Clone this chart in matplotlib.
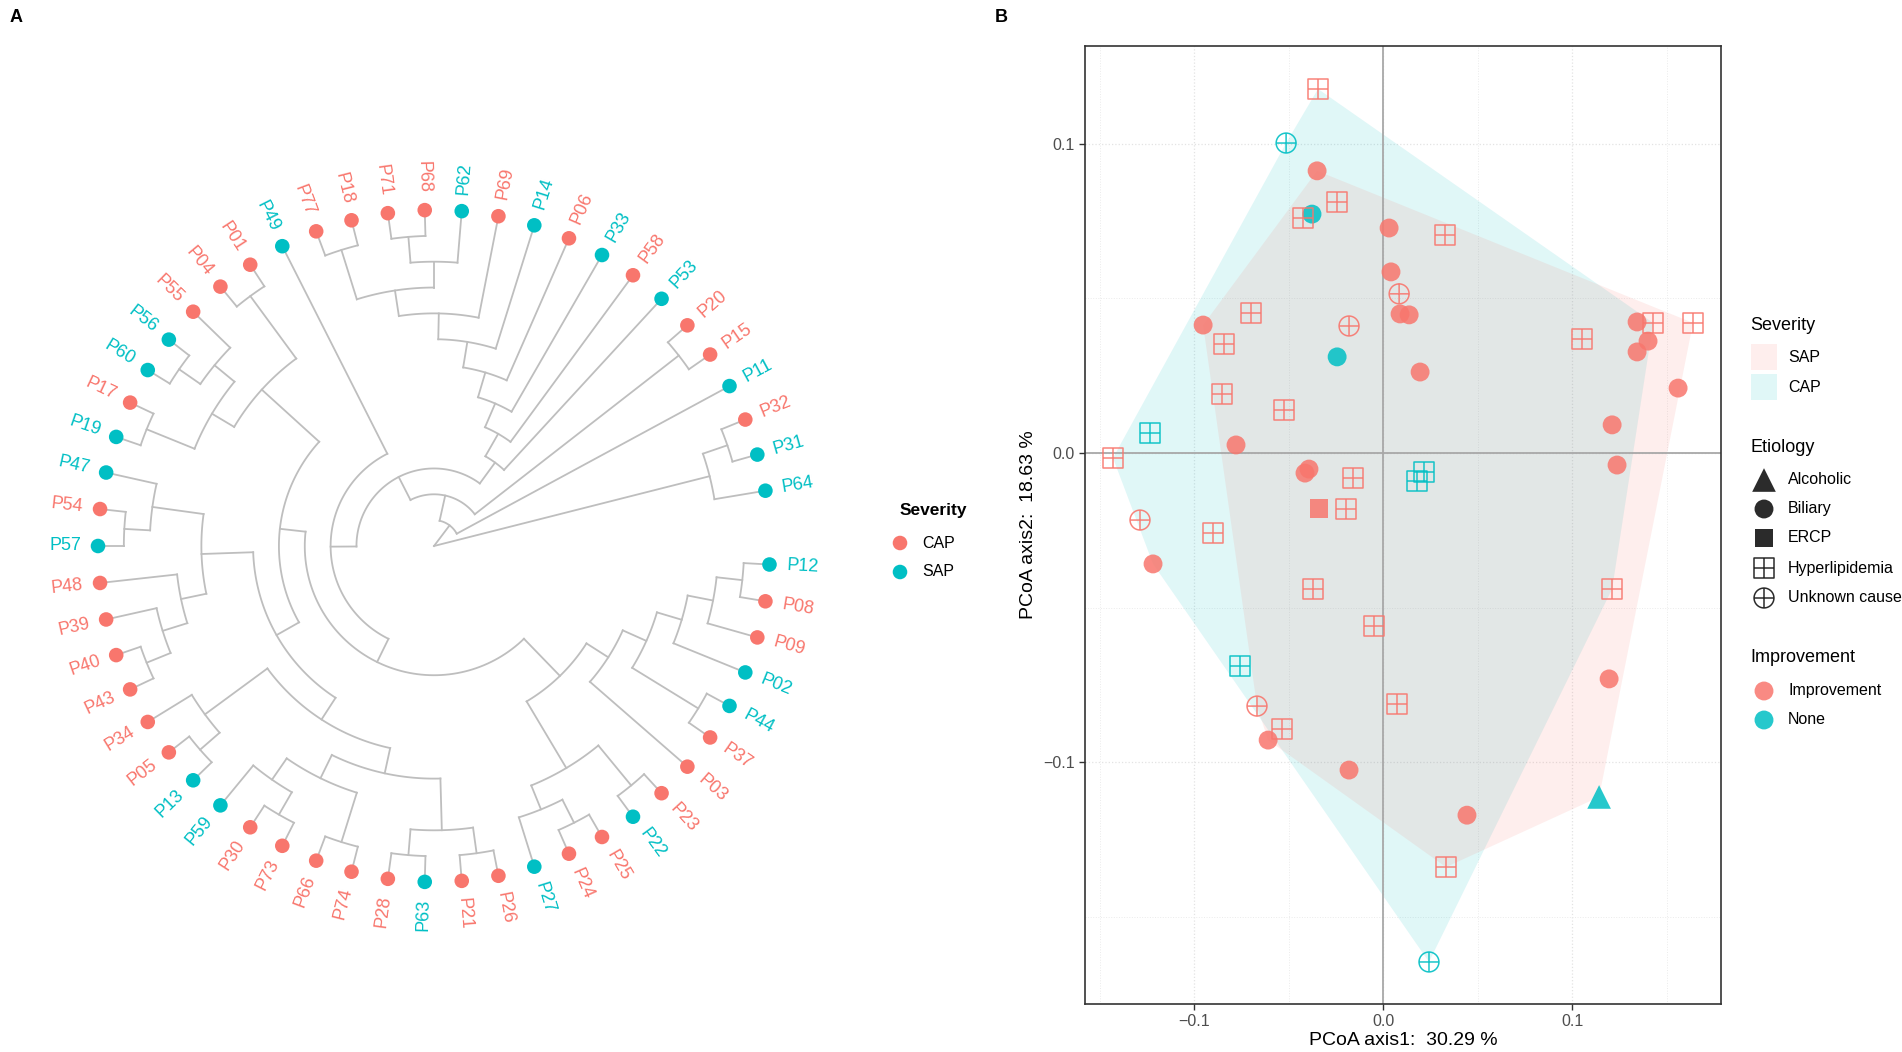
import numpy as np
import matplotlib
matplotlib.use("Agg")
import matplotlib.pyplot as plt
from matplotlib.path import Path
from matplotlib.transforms import Affine2D
from matplotlib.patches import Polygon, Rectangle

plt.rcParams["font.family"] = ["Liberation Sans", "DejaVu Sans"]

PINK = "#F8766D"
CYAN = "#00BFC4"
TREE_GRAY = "#BEBEBE"

# ─── Panel A: clustering tree (cladogram, leaf order as in the figure) ────────
CL_A  = "(P64,(P31,P32))"
CL_B  = "(P15,P20)"
CL_M  = "((P62,(P68,P71)),(P18,P77))"
CL_L  = "(P53,(P58,(P33,(P06,(P14,(P69," + CL_M + "))))))"
CL_G1 = "((P01,P04),((P55,(P56,P60)),(P17,P19)))"
CL_G2 = "((P47,(P54,P57)),(P48,(P39,(P40,P43))))"
CL_Q1 = "(P34,(P05,P13))"
CL_Q2 = "(((P59,(P30,P73)),(P66,P74)),((P28,P63),(P21,P26)))"
CL_V1 = "((P27,(P24,P25)),(P22,P23))"
CL_V2 = "(P03,((P37,P44),(P02,(P09,(P08,P12)))))"
CL_U  = "(" + CL_G1 + ",(" + CL_G2 + ",(" + CL_Q1 + "," + CL_Q2 + ")))"
CL_Z  = "(P49,(" + CL_U + ",(" + CL_V1 + "," + CL_V2 + ")))"
TREE  = "(" + CL_A + ",(P11,(" + CL_B + ",(" + CL_L + "," + CL_Z + "))))"

SAP_TIPS = ["P64", "P31", "P11", "P53", "P33", "P14", "P62", "P49", "P56", "P60",
            "P19", "P47", "P57", "P13", "P59", "P63", "P27", "P22", "P44", "P02", "P12"]

# ─── Panel B: PCoA ordination ─────────────────────────────────────────────────
PCOA1 = [-0.0344, -0.0513, -0.0349, -0.0376, -0.0423, -0.0243, 0.0032, 0.0328,
         0.0042, 0.0085, 0.0090, 0.0138, -0.0180, -0.0243, 0.0196, -0.0952,
         -0.0698, -0.0841, -0.0852, -0.0524, -0.1233, -0.0778, -0.1429, -0.0413,
         -0.0392, -0.0159, 0.0217, 0.0180, -0.0339, -0.0196, -0.1286, -0.0899,
         -0.1217, -0.0370, -0.0048, -0.0757, -0.0667, -0.0534, -0.0608, -0.0180,
         0.0074, 0.0444, 0.0333, 0.0243, 0.1143, 0.1196, 0.1212, 0.1238,
         0.1212, 0.1053, 0.1344, 0.1429, 0.1402, 0.1344, 0.1640, 0.1561]
PCOA2 = [0.1178, 0.1003, 0.0913, 0.0773, 0.0761, 0.0812, 0.0728, 0.0706,
         0.0586, 0.0515, 0.0450, 0.0447, 0.0411, 0.0311, 0.0262, 0.0414,
         0.0453, 0.0353, 0.0191, 0.0139, 0.0065, 0.0026, -0.0016, -0.0065,
         -0.0052, -0.0081, -0.0061, -0.0091, -0.0181, -0.0181, -0.0217, -0.0259,
         -0.0359, -0.0440, -0.0560, -0.0689, -0.0819, -0.0893, -0.0929, -0.1026,
         -0.0812, -0.1172, -0.1340, -0.1647, -0.1113, -0.0731, -0.0440, -0.0039,
         0.0091, 0.0369, 0.0424, 0.0421, 0.0362, 0.0327, 0.0421, 0.0210]
ETIOLOGY = ["Hyperlipidemia", "Unknown cause", "Biliary", "Biliary", "Hyperlipidemia",
            "Hyperlipidemia", "Biliary", "Hyperlipidemia", "Biliary", "Unknown cause",
            "Biliary", "Biliary", "Unknown cause", "Biliary", "Biliary", "Biliary",
            "Hyperlipidemia", "Hyperlipidemia", "Hyperlipidemia", "Hyperlipidemia",
            "Hyperlipidemia", "Biliary", "Hyperlipidemia", "Biliary", "Biliary",
            "Hyperlipidemia", "Hyperlipidemia", "Hyperlipidemia", "ERCP", "Hyperlipidemia",
            "Unknown cause", "Hyperlipidemia", "Biliary", "Hyperlipidemia", "Hyperlipidemia",
            "Hyperlipidemia", "Unknown cause", "Hyperlipidemia", "Biliary", "Biliary",
            "Hyperlipidemia", "Biliary", "Hyperlipidemia", "Unknown cause", "Alcoholic",
            "Biliary", "Hyperlipidemia", "Biliary", "Biliary", "Hyperlipidemia",
            "Biliary", "Hyperlipidemia", "Biliary", "Biliary", "Hyperlipidemia", "Biliary"]
IMPROVEMENT = ["Improvement"] * 56
for i in (1, 3, 13, 20, 26, 27, 35, 43, 44):
    IMPROVEMENT[i] = "None"
SEVERITY_B = ["CAP"] * 56
for i in (2, 6, 8, 14, 15, 21, 23, 25, 28, 33, 34, 36, 38, 39, 40, 41, 42, 44, 45, 54, 55):
    SEVERITY_B[i] = "SAP"

# ─── helpers ──────────────────────────────────────────────────────────────────
def parse_newick(s):
    pos = 0

    def node():
        nonlocal pos
        if s[pos] == "(":
            pos += 1
            kids = [node()]
            while s[pos] == ",":
                pos += 1
                kids.append(node())
            pos += 1
            return kids
        j = pos
        while j < len(s) and s[j] not in ",()":
            j += 1
        name = s[pos:j]
        pos = j
        return name
    return node()


def tip_names(n):
    return [n] if isinstance(n, str) else [t for c in n for t in tip_names(c)]


def height(n):
    return 0 if isinstance(n, str) else 1 + max(height(c) for c in n)


def convex_hull(pts):
    pts = sorted(set(pts))
    def cross(o, a, b):
        return (a[0] - o[0]) * (b[1] - o[1]) - (a[1] - o[1]) * (b[0] - o[0])
    lower, upper = [], []
    for p in pts:
        while len(lower) >= 2 and cross(lower[-2], lower[-1], p) <= 0:
            lower.pop()
        lower.append(p)
    for p in reversed(pts):
        while len(upper) >= 2 and cross(upper[-2], upper[-1], p) <= 0:
            upper.pop()
        upper.append(p)
    return lower[:-1] + upper[:-1]


cross_path = Path([(-0.5, 0), (0.5, 0), (0, -0.5), (0, 0.5)],
                  [Path.MOVETO, Path.LINETO, Path.MOVETO, Path.LINETO])
sq_path = Path.unit_rectangle().transformed(Affine2D().translate(-0.5, -0.5))
circ_path = Path.unit_circle().transformed(Affine2D().scale(0.5))
HYPER_MARK = Path.make_compound_path(sq_path, cross_path)
UNKNOWN_MARK = Path.make_compound_path(circ_path, cross_path)
ETIO_STYLE = {
    "Alcoholic":      dict(marker="^", s=290, filled=True),
    "Biliary":        dict(marker="o", s=185, filled=True),
    "ERCP":           dict(marker="s", s=185, filled=True),
    "Hyperlipidemia": dict(marker=HYPER_MARK, s=205, filled=False),
    "Unknown cause":  dict(marker=UNKNOWN_MARK, s=205, filled=False),
}

# ─── figure ───────────────────────────────────────────────────────────────────
W, H = 1902, 1052
fig = plt.figure(figsize=(W / 100, H / 100), dpi=100)

# Panel A ─ circular tree
CX, CY, R_TIP, R_AX = 434, 546, 336, 400
axA = fig.add_axes([(CX - R_AX) / W, (H - CY - R_AX) / H, 2 * R_AX / W, 2 * R_AX / H],
                   projection="polar")
axA.set_axis_off()

tree = parse_newick(TREE)
tips = tip_names(tree)
n_lev = height(tree)
axA.set_ylim(0, n_lev * R_AX / R_TIP)
step = 2 * np.pi / (len(tips) + 1)
tip_theta = {t: (k + 1.5) * step for k, t in enumerate(tips)}


def draw_node(n):
    if isinstance(n, str):
        return tip_theta[n], n_lev
    kids = [draw_node(c) for c in n]
    r = n_lev - height(n)
    th = [k[0] for k in kids]
    if r > 0:
        arc = np.linspace(min(th), max(th), 80)
        axA.plot(arc, np.full_like(arc, r), color=TREE_GRAY, lw=1.3, zorder=1)
    for t, rc in kids:
        axA.plot([t, t], [r, rc], color=TREE_GRAY, lw=1.3, zorder=1)
    return float(np.mean(th)), r


draw_node(tree)
r_lab = n_lev * (R_TIP + 17) / R_TIP
for t in tips:
    col = CYAN if t in SAP_TIPS else PINK
    th = tip_theta[t]
    axA.scatter([th], [n_lev], s=110, color=col, edgecolors="none", zorder=3)
    deg = np.degrees(th) % 360
    if 90 < deg < 270:
        rot, ha = deg - 180, "right"
    else:
        rot, ha = deg, "left"
    axA.text(th, r_lab, t, rotation=rot, ha=ha, va="center", rotation_mode="anchor",
             fontsize=13, color=col)

# Panel B ─ PCoA
axB = fig.add_axes([1085 / W, (H - 1004) / H, 636 / W, 958 / H])
axB.set_xlim(-0.1577, 0.1788)
axB.set_ylim(-0.1783, 0.1317)

for sev, col in (("CAP", CYAN), ("SAP", PINK)):
    pts = [(x, y) for x, y, s in zip(PCOA1, PCOA2, SEVERITY_B) if s == sev]
    axB.add_patch(Polygon(convex_hull(pts), closed=True, facecolor=col, alpha=0.12,
                          edgecolor="none", zorder=1))

axB.axhline(0, color="#A8A8A8", lw=1.3, zorder=1.5)
axB.axvline(0, color="#A8A8A8", lw=1.3, zorder=1.5)

for etio, st in ETIO_STYLE.items():
    for imp, col in (("Improvement", PINK), ("None", CYAN)):
        sel = [i for i in range(len(PCOA1)) if ETIOLOGY[i] == etio and IMPROVEMENT[i] == imp]
        if not sel:
            continue
        xs = [PCOA1[i] for i in sel]
        ys = [PCOA2[i] for i in sel]
        if st["filled"]:
            axB.scatter(xs, ys, marker=st["marker"], s=st["s"], color=col,
                        edgecolors="none", alpha=0.85, zorder=3)
        else:
            axB.scatter(xs, ys, marker=st["marker"], s=st["s"], facecolors="none",
                        edgecolors=col, linewidths=1.1, alpha=0.9, zorder=3)

axB.set_xticks([-0.1, 0.0, 0.1])
axB.set_yticks([-0.1, 0.0, 0.1])
axB.set_xticklabels(["\u22120.1", "0.0", "0.1"])
axB.set_yticklabels(["\u22120.1", "0.0", "0.1"])
axB.set_xticks([-0.15, -0.05, 0.05, 0.15], minor=True)
axB.set_yticks([-0.15, -0.05, 0.05], minor=True)
axB.tick_params(which="major", length=4, width=1, color="#333333",
                labelsize=11.5, labelcolor="#4D4D4D")
axB.tick_params(which="minor", length=0)
axB.grid(which="major", color="#E3E3E3", lw=0.9, ls=":", zorder=0)
axB.grid(which="minor", color="#EBEBEB", lw=0.7, ls=":", zorder=0)
axB.set_axisbelow(True)
for sp in axB.spines.values():
    sp.set_color("#333333")
    sp.set_linewidth(1.2)
axB.set_xlabel("PCoA axis1:  30.29 %", fontsize=14, labelpad=2)
axB.set_ylabel("PCoA axis2:  18.63 %", fontsize=14, labelpad=4)

# ─── legends and panel letters (pixel overlay) ────────────────────────────────
lay = fig.add_axes([0, 0, 1, 1])
lay.set_xlim(0, W)
lay.set_ylim(H, 0)
lay.set_axis_off()

lay.text(10, 17, "A", fontsize=13, fontweight="bold", va="center")
lay.text(995, 17, "B", fontsize=13, fontweight="bold", va="center")

# legend of panel A
lay.text(900, 511, "Severity", fontsize=12.5, fontweight="bold", va="center")
for yy, lab, col in ((543, "CAP", PINK), (572, "SAP", CYAN)):
    lay.scatter([900], [yy], s=110, color=col, edgecolors="none")
    lay.text(922, yy, lab, fontsize=11.5, va="center")

# legend of panel B
KX, TX = 1764, 1788
lay.text(1750, 326, "Severity", fontsize=13, va="center")
for yy, lab, col in ((357, "SAP", PINK), (387, "CAP", CYAN)):
    lay.add_patch(Rectangle((KX - 13, yy - 13), 26, 26, facecolor=col, alpha=0.12,
                            edgecolor="none"))
    lay.text(TX, yy, lab, fontsize=11.5, va="center")

lay.text(1750, 447, "Etiology", fontsize=13, va="center")
for yy, (etio, st) in zip((480, 509, 538, 568, 598), ETIO_STYLE.items()):
    if st["filled"]:
        lay.scatter([KX], [yy], marker=st["marker"], s=st["s"], color="#2B2B2B",
                    edgecolors="none")
    else:
        lay.scatter([KX], [yy], marker=st["marker"], s=st["s"], facecolors="none",
                    edgecolors="#2B2B2B", linewidths=1.1)
    lay.text(TX, yy, etio, fontsize=11.5, va="center")

lay.text(1750, 658, "Improvement", fontsize=13, va="center")
for yy, lab, col in ((691, "Improvement", PINK), (720, "None", CYAN)):
    lay.scatter([KX], [yy], s=185, color=col, alpha=0.85, edgecolors="none")
    lay.text(TX, yy, lab, fontsize=11.5, va="center")

fig.savefig("out.png", dpi=100)
